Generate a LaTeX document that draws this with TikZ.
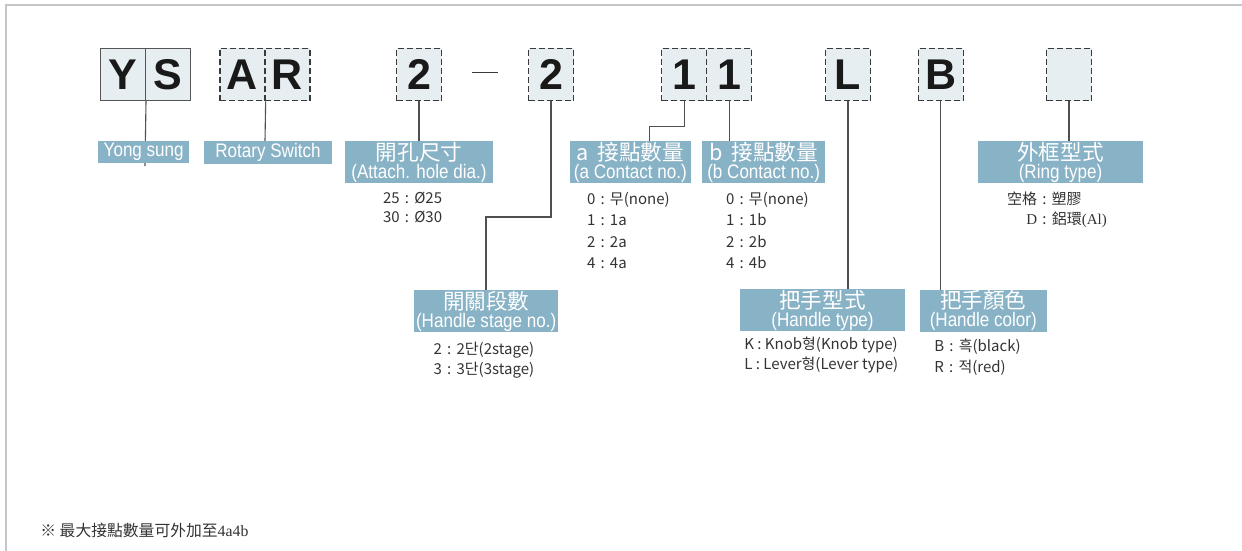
\documentclass[tikz,border=0pt]{standalone}
\usepackage{fontspec}
\setmainfont{Liberation Sans}
\newfontfamily\narrowsf[FakeStretch=0.87]{Liberation Sans}
\newfontfamily\cjk{Noto Sans CJK TC}
\newfontfamily\serifsf{Liberation Serif}

\definecolor{boxfill}{HTML}{E7EEF2}
\definecolor{boxline}{HTML}{3A3A3A}
\definecolor{solidgray}{HTML}{555555}
\definecolor{labelblue}{HTML}{88B2C5}
\definecolor{textgray}{HTML}{333333}
\definecolor{linegray}{HTML}{505050}
\definecolor{framegray}{HTML}{C6C6CA}

\tikzset{
	codebox/.style={fill=boxfill, draw=solidgray, line width=0.5pt, minimum width=22.5pt, minimum height=26.2pt, inner sep=0pt, text=black!90, font=\bfseries\fontsize{21.5}{21.5}\selectfont},
	dashbox/.style={draw=boxline, line width=0.65pt, dash pattern=on 3pt off 1.5pt},
	tag/.style={fill=labelblue, text=white, inner sep=0pt, align=center, font=\narrowsf\fontsize{9.8}{9}\selectfont},
	item/.style={anchor=west, inner sep=0pt, align=left, text=textgray},
}
\newcommand{\zh}[1]{{\cjk\fontsize{10.8}{9}\selectfont #1}}
\newcommand{\ksep}{\hspace{2.6pt}:\hspace{2.6pt}}

\begin{document}
\begin{tikzpicture}[x=0.5pt, y=-0.5pt]
\useasboundingbox (0,0) rectangle (1242,551);

%Frame
\draw[framegray, line width=1.25pt] (6,551) -- (6,5) -- (1242,5);

\begin{scope}[every node/.style={codebox}]
	%Maker
	\node (Y) at (123, 74.5) {Y};
	\node (S) at (168, 74.5) {S};
	
	%Series
	\node[dashbox] (A) at (242.5, 74.5) {A};
	\node[dashbox] (R) at (287.5, 74.5) {R};
	
	%Hole and stage
	\node[dashbox] (hole) at (419, 74.5) {2};
	\node[dashbox] (stage) at (551, 74.5) {2};
	
	%Contacts
	\node[dashbox] (cona) at (684.2, 74.5) {1};
	\node[dashbox] (conb) at (729.2, 74.5) {1};
	
	%Handle and ring
	\node[dashbox] (handle) at (848, 74.5) {L};
	\node[dashbox] (colour) at (940.8, 74.5) {B};
	\node[dashbox] (ring) at (1069, 74.5) {};
\end{scope}

\draw[boxline, line width=0.65pt] (472, 72.7) -- (498, 72.7);

\begin{scope}[style={linegray, line width=0.55pt}]
	\coordinate (stagebend) at (486, 217);
	\coordinate (conabend) at (649.3, 126.7);
	
	\draw (Y.south east) -- (145, 166);
	\draw (A.south east) -- (265, 141);
	\draw (hole.south) -- (419, 141);
	\draw (stage.south) |- (stagebend) -- (486, 290);
	\draw (cona.south) |- (conabend) -- (649.3, 141);
	\draw (conb.south) -- (729.2, 141);
	\draw (handle.south) -- (848, 290);
	\draw (colour.south) -- (940.8, 290);
	\draw (ring.south) -- (1069, 141);
\end{scope}

\begin{scope}[every node/.style={tag}]
	%Top row
	\node[minimum width=45.5pt, minimum height=11.25pt] (makertag) at (143.7, 152.2) {Yong sung};
	\node[minimum width=63.7pt, minimum height=11.65pt] (seriestag) at (268, 152.7) {Rotary Switch};
	\node[minimum width=74pt, minimum height=21pt] (holetag) at (419, 162) {\zh{開孔尺寸}\\(Attach. hole dia.)};
	\node[minimum width=60.35pt, minimum height=21pt] (conatag) at (630.3, 162) {\zh{a\hspace{2pt} 接點數量}\\(a Contact no.)};
	\node[minimum width=61.35pt, minimum height=21pt] (conbtag) at (763.7, 162) {\zh{b\hspace{2pt} 接點數量}\\(b Contact no.)};
	\node[minimum width=82.2pt, minimum height=21pt] (ringtag) at (1060.5, 162) {\zh{外框型式}\\(Ring type)};
	
	%Bottom row
	\node[minimum width=72.15pt, minimum height=21pt] (stagetag) at (486.2, 311) {\zh{開關段數}\\(Handle stage no.)};
	\node[minimum width=82.5pt, minimum height=21pt] (handletag) at (822.5, 310) {\zh{把手型式}\\(Handle type)};
	\node[minimum width=63.35pt, minimum height=21pt] (colourtag) at (983.3, 310.5) {\zh{把手顏色}\\(Handle color)};
\end{scope}

\begin{scope}[every node/.style={item}]
	\node[font=\cjk\fontsize{7.5}{9.5}\selectfont] (holeitems) at (382.7, 207.8) {25\ksep Ø25\\30\ksep Ø30};
	\node[font=\cjk\fontsize{7.5}{10.75}\selectfont] (conaitems) at (586.7, 230.5) {0\ksep 무(none)\\1\ksep 1a\\2\ksep 2a\\4\ksep 4a};
	\node[font=\cjk\fontsize{7.5}{10.75}\selectfont] (conbitems) at (725.7, 230.5) {0\ksep 무(none)\\1\ksep 1b\\2\ksep 2b\\4\ksep 4b};
	\node[font=\cjk\fontsize{7.5}{10}\selectfont] (stageitems) at (433.3, 360) {2\ksep 2단(2stage)\\3\ksep 3단(3stage)};
	\node[font=\cjk\fontsize{7.5}{10}\selectfont] (handleitems) at (744, 355) {K : Knob형(Knob type)\\L : Lever형(Lever type)};
	\node[font=\cjk\fontsize{7.5}{10.3}\selectfont] (colouritems) at (934, 357) {B\ksep 흑(black)\\R\ksep 적(red)};
	\node[font=\cjk\fontsize{7.5}{9}\selectfont] (ringitem1) at (1006.7, 198.3) {空格\ksep 塑膠};
	\node[font=\cjk\fontsize{7.5}{9}\selectfont] (ringitem2) at (1026, 219.3) {{\serifsf D}\ksep 鋁環{\serifsf (Al)}};
	
	%Footnote
	\node[font=\cjk\fontsize{7.9}{9}\selectfont] (note) at (40, 530) {※ 最大接點數量可外加至{\serifsf 4a4b}};
\end{scope}

\end{tikzpicture}
\end{document}
